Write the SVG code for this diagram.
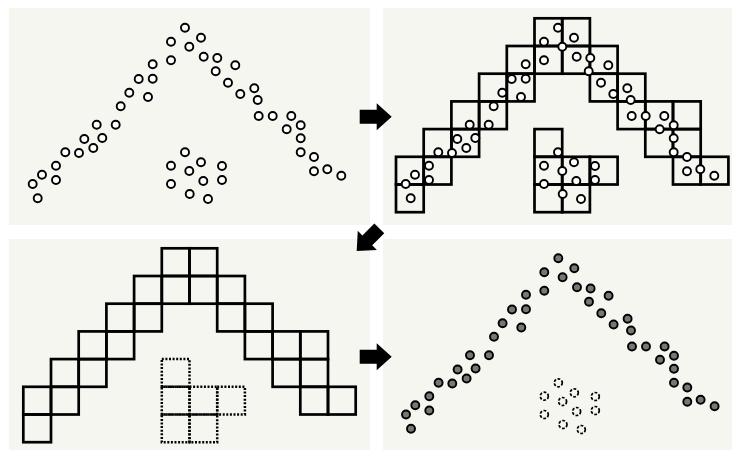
<svg xmlns="http://www.w3.org/2000/svg" xmlns:xlink="http://www.w3.org/1999/xlink" width="732" height="451" viewBox="0 0 732 451">
<style>
.panel{fill:#f4f6ef;stroke:none}
.open{fill:#ffffff;stroke:#000;stroke-width:1.9}
.grey{fill:#777777;stroke:#000;stroke-width:1.9}
.dash{fill:none;stroke:#000;stroke-width:1.7;stroke-dasharray:2.8 1.6}
.cells{fill:none;stroke:#000;stroke-width:2.7}
.dots{fill:none;stroke:#000;stroke-width:2.5;stroke-dasharray:2 1.6}
.arrow{fill:#000;stroke:none}
</style>
<defs>
<g id="mainpts">
<circle cx="185" cy="27.7" r="4"/><circle cx="171" cy="41.7" r="4"/><circle cx="189.3" cy="46.7" r="4"/><circle cx="201" cy="37.7" r="4"/>
<circle cx="171" cy="60.3" r="4"/><circle cx="152.7" cy="64.3" r="4"/><circle cx="203.7" cy="56.7" r="4"/><circle cx="217.3" cy="58" r="4"/>
<circle cx="235.3" cy="65.3" r="4"/><circle cx="215.7" cy="71.3" r="4"/><circle cx="138.7" cy="79" r="4"/><circle cx="152.7" cy="78.7" r="4"/>
<circle cx="228" cy="82.7" r="4"/><circle cx="129.3" cy="92.7" r="4"/><circle cx="148" cy="97" r="4"/><circle cx="240.3" cy="94" r="4"/>
<circle cx="254.3" cy="88.3" r="4"/><circle cx="257.7" cy="100" r="4"/><circle cx="120.7" cy="106.3" r="4"/><circle cx="258.7" cy="116" r="4"/>
<circle cx="272.7" cy="116" r="4"/><circle cx="291.3" cy="116" r="4"/><circle cx="96.7" cy="124.7" r="4"/><circle cx="115.7" cy="124.7" r="4"/>
<circle cx="286.7" cy="129.3" r="4"/><circle cx="300.7" cy="125.3" r="4"/><circle cx="84.3" cy="139" r="4"/><circle cx="102.3" cy="138" r="4"/>
<circle cx="300.7" cy="138.3" r="4"/><circle cx="93.3" cy="148" r="4"/><circle cx="65.3" cy="152.3" r="4"/><circle cx="79" cy="153" r="4"/>
<circle cx="300.7" cy="152.3" r="4"/><circle cx="314" cy="157" r="4"/><circle cx="56" cy="165.7" r="4"/><circle cx="56" cy="180" r="4"/>
<circle cx="42" cy="174.7" r="4"/><circle cx="32.7" cy="184" r="4"/><circle cx="37.7" cy="198.3" r="4"/><circle cx="314" cy="171.3" r="4"/>
<circle cx="327.3" cy="169.3" r="4"/><circle cx="341.3" cy="175.7" r="4"/>
</g>
<g id="clusterpts">
<circle cx="185" cy="152.3" r="4"/><circle cx="171" cy="165.7" r="4"/><circle cx="201" cy="162.3" r="4"/><circle cx="222" cy="166" r="4"/>
<circle cx="189.3" cy="171" r="4"/><circle cx="171" cy="184" r="4"/><circle cx="203.3" cy="181" r="4"/><circle cx="222" cy="180" r="4"/>
<circle cx="189.7" cy="194" r="4"/><circle cx="208" cy="199" r="4"/>
</g>
<g id="maincells">
<rect x="138.5" y="0" width="27.7" height="27.7"/><rect x="166.2" y="0" width="27.7" height="27.7"/>
<rect x="110.8" y="27.7" width="27.7" height="27.7"/><rect x="138.5" y="27.7" width="27.7" height="27.7"/><rect x="166.2" y="27.7" width="27.7" height="27.7"/><rect x="193.9" y="27.7" width="27.7" height="27.7"/>
<rect x="83.1" y="55.4" width="27.7" height="27.7"/><rect x="110.8" y="55.4" width="27.7" height="27.7"/><rect x="193.9" y="55.4" width="27.7" height="27.7"/><rect x="221.6" y="55.4" width="27.7" height="27.7"/>
<rect x="55.4" y="83.1" width="27.7" height="27.7"/><rect x="83.1" y="83.1" width="27.7" height="27.7"/><rect x="221.6" y="83.1" width="27.7" height="27.7"/><rect x="249.3" y="83.1" width="27.7" height="27.7"/><rect x="277" y="83.1" width="27.7" height="27.7"/>
<rect x="27.7" y="110.8" width="27.7" height="27.7"/><rect x="55.4" y="110.8" width="27.7" height="27.7"/><rect x="249.3" y="110.8" width="27.7" height="27.7"/><rect x="277" y="110.8" width="27.7" height="27.7"/>
<rect x="0" y="138.5" width="27.7" height="27.7"/><rect x="27.7" y="138.5" width="27.7" height="27.7"/><rect x="277" y="138.5" width="27.7" height="27.7"/><rect x="304.7" y="138.5" width="27.7" height="27.7"/>
<rect x="0" y="166.2" width="27.7" height="27.7"/>
</g>
<g id="clustercells">
<rect x="138.5" y="110.8" width="27.7" height="27.7"/>
<rect x="138.5" y="138.5" width="27.7" height="27.7"/><rect x="166.2" y="138.5" width="27.7" height="27.7"/><rect x="193.9" y="138.5" width="27.7" height="27.7"/>
<rect x="138.5" y="166.2" width="27.7" height="27.7"/><rect x="166.2" y="166.2" width="27.7" height="27.7"/>
</g>
<path id="arrowshape" d="M0,0 L-15,-13.5 L-15,-7 L-32,-7 L-32,7 L-15,7 L-15,13.5 Z"/>
</defs>
<rect width="732" height="451" fill="#ffffff"/>
<g id="panel-points">
<rect class="panel" x="9" y="8" width="361" height="217"/>
<use href="#mainpts" class="open"/>
<use href="#clusterpts" class="open"/>
</g>
<g id="panel-grid-points">
<rect class="panel" x="383" y="8" width="349" height="217"/>
<use href="#maincells" class="cells" transform="translate(396,18.3)"/>
<use href="#clustercells" class="cells" transform="translate(396,18.3)"/>
<use href="#mainpts" class="open" transform="translate(373,0)"/>
<use href="#clusterpts" class="open" transform="translate(373,0)"/>
</g>
<g id="panel-grid">
<rect class="panel" x="9" y="239" width="361" height="211"/>
<use href="#maincells" class="cells" transform="translate(23.3,248.3)"/>
<use href="#clustercells" class="dots" transform="translate(23.3,248.3)"/>
</g>
<g id="panel-result">
<rect class="panel" x="383" y="239" width="349" height="211"/>
<g transform="translate(373.3,230.5)">
<use href="#mainpts" class="grey" transform="translate(0,0)"/>
<use href="#clusterpts" class="dash"/>
</g>
</g>
<g id="connectors">
<use href="#arrowshape" class="arrow" transform="translate(391.7,116.7)"/>
<use href="#arrowshape" class="arrow" transform="translate(356.7,251) rotate(135)"/>
<use href="#arrowshape" class="arrow" transform="translate(391.7,356.7)"/>
</g>
</svg>
